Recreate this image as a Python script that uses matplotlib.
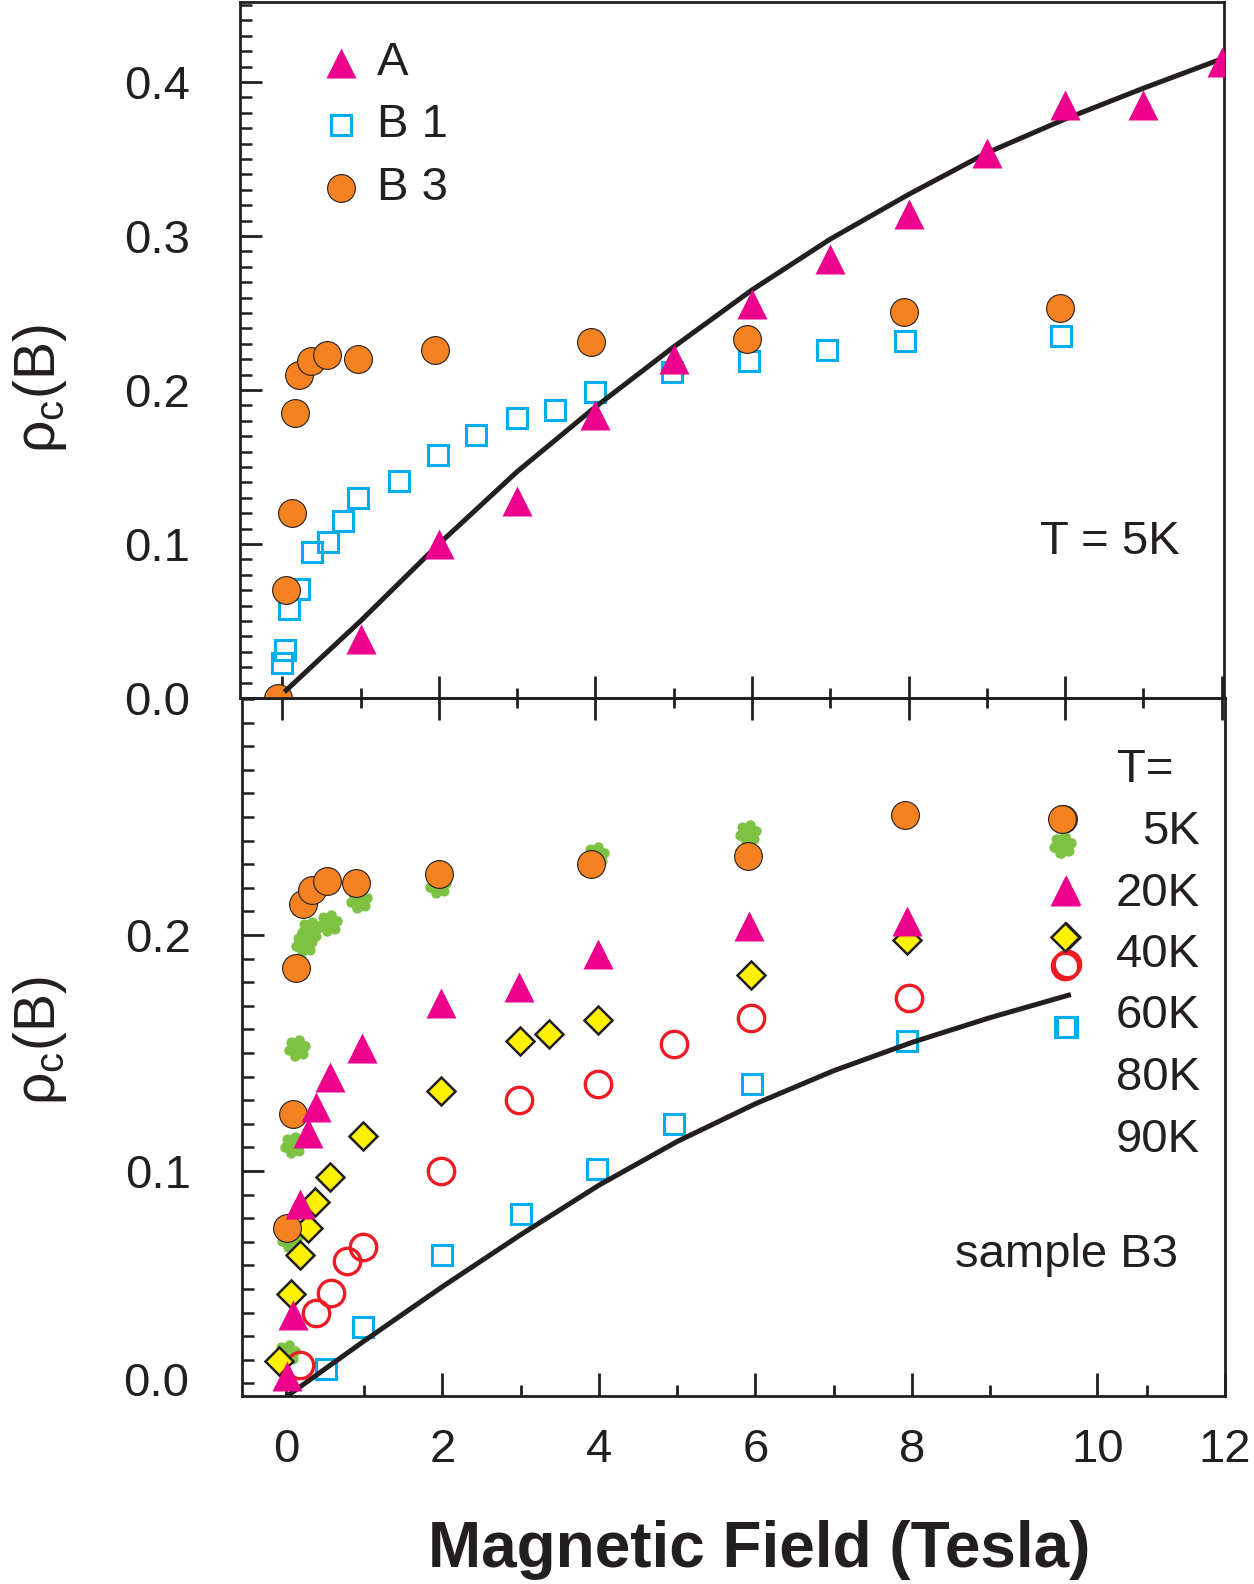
import numpy as np
import matplotlib
matplotlib.use('Agg')
import matplotlib.pyplot as plt
from matplotlib.path import Path
from matplotlib.ticker import MultipleLocator, FixedLocator, FormatStrFormatter

plt.rcParams['font.family'] = ['Liberation Sans', 'DejaVu Sans']
plt.rcParams['mathtext.default'] = 'regular'

INK = '#231F20'
MAGENTA = '#EC008C'
CYAN = '#00AEEF'
ORANGE = '#F58220'
GREEN = '#7DC242'
YELLOW = '#FFF200'
RED = '#ED1C24'

# upper panel, T = 5K, samples A, B1, B3
a_x = [1, 2, 3, 4, 5, 6, 7, 8, 9, 10, 11, 12]
a_y = [0.038, 0.100, 0.128, 0.184, 0.220, 0.256, 0.285, 0.314, 0.354, 0.385, 0.385, 0.413]
b1_x = [0.0, 0.03, 0.08, 0.21, 0.38, 0.58, 0.78, 0.97, 1.49, 1.99, 2.47, 3.0, 3.48, 4.0,
        4.98, 5.96, 6.96, 7.96, 9.95]
b1_y = [0.0225, 0.031, 0.058, 0.071, 0.095, 0.101, 0.115, 0.130, 0.141, 0.158, 0.171, 0.182,
        0.187, 0.199, 0.212, 0.219, 0.226, 0.232, 0.235]
b3_x = [-0.05, 0.05, 0.12, 0.16, 0.22, 0.37, 0.57, 0.97, 1.95, 3.95, 5.94, 7.94, 9.93]
b3_y = [0.0, 0.070, 0.120, 0.185, 0.210, 0.219, 0.223, 0.220, 0.226, 0.231, 0.233, 0.2505, 0.253]
fit_top_x = [0.05, 1, 2, 3, 4, 5, 6, 7, 8, 9, 10, 11, 12.05]
fit_top_y = [0.005, 0.050, 0.100, 0.147, 0.189, 0.228, 0.265, 0.298, 0.327, 0.354, 0.376, 0.396, 0.416]

# lower panel, sample B3 at several temperatures
t5_x = [0.01, 0.09, 0.13, 0.22, 0.33, 0.52, 0.90, 1.96, 3.90, 5.90, 7.91, 9.92]
t5_y = [0.076, 0.124, 0.186, 0.213, 0.219, 0.223, 0.222, 0.226, 0.230, 0.2335, 0.251, 0.249]
t20_x = [0.01, 0.05, 0.09, 0.14, 0.23, 0.31, 0.55, 0.94, 1.95, 3.96, 5.91, 9.92]
t20_y = [0.023, 0.071, 0.111, 0.152, 0.196, 0.202, 0.205, 0.215, 0.221, 0.234, 0.243, 0.238]
t40_x = [0.01, 0.09, 0.18, 0.285, 0.38, 0.56, 0.97, 1.98, 2.98, 3.99, 5.92, 7.94, 9.96]
t40_y = [0.013, 0.039, 0.086, 0.116, 0.127, 0.140, 0.152, 0.171, 0.178, 0.192, 0.204, 0.206, 0.2185]
t60_x = [-0.09, 0.06, 0.18, 0.285, 0.37, 0.57, 0.98, 1.98, 2.99, 3.36, 3.99, 5.94, 7.94, 9.96]
t60_y = [0.0195, 0.048, 0.0645, 0.076, 0.087, 0.0975, 0.115, 0.134, 0.155, 0.158, 0.164, 0.183,
         0.198, 0.199]
t80_x = [0.18, 0.38, 0.58, 0.78, 0.98, 1.98, 2.98, 3.99, 4.96, 5.94, 7.96, 9.96]
t80_y = [0.018, 0.040, 0.0485, 0.062, 0.068, 0.100, 0.130, 0.137, 0.154, 0.165, 0.1735, 0.187]
t90_x = [0.51, 0.99, 2.0, 3.0, 3.97, 4.96, 5.95, 7.94, 9.96]
t90_y = [0.016, 0.034, 0.0645, 0.082, 0.101, 0.120, 0.137, 0.155, 0.161]
fit_low_x = [0.03, 1, 2, 3, 4, 5, 6, 7, 8, 9, 10]
fit_low_y = [0.005, 0.028, 0.051, 0.073, 0.094, 0.1125, 0.1285, 0.1425, 0.1545, 0.165, 0.1745]

top_legend = ['A', 'B 1', 'B 3']
low_legend = ['5K', '20K', '40K', '60K', '80K', '90K']

# flower shaped marker for the green series
petals = [Path.circle((0.58 * np.cos(t), 0.58 * np.sin(t)), 0.36)
          for t in np.deg2rad(np.arange(0, 360, 60) + 15)]
flower = Path.make_compound_path(Path.circle((0, 0), 0.62), *petals)

st_a = dict(marker='^', ms=22, mfc=MAGENTA, mec='none', ls='none')
st_b1 = dict(marker='s', ms=14.5, mfc='none', mec=CYAN, mew=2.2, ls='none')
st_b3 = dict(marker='o', ms=20, mfc=ORANGE, mec=INK, mew=0.8, ls='none')
st_g = dict(marker=flower, ms=19, mfc=GREEN, mec='none', ls='none')
st_d = dict(marker='D', ms=14.5, mfc=YELLOW, mec=INK, mew=1.8, ls='none')
st_r = dict(marker='o', ms=19, mfc='none', mec=RED, mew=2.4, ls='none')

W, H = 1254, 1584
def fx(px):
    return px / W
def fy(py):
    return 1 - py / H

fig = plt.figure(figsize=(W / 100, H / 100), dpi=100)
ax1 = fig.add_axes([fx(240), fy(698), (1224 - 240) / W, (698 - 2) / H])
ax2 = fig.add_axes([fx(242), fy(1396), (1225 - 242) / W, (1396 - 698) / H])
ax2.patch.set_visible(False)

for ax in (ax1, ax2):
    for s in ax.spines.values():
        s.set_linewidth(2)
        s.set_color(INK)

# ---- upper panel
ax1.plot(b1_x, b1_y, zorder=3, **st_b1)
ax1.plot(b3_x, b3_y, zorder=4, **st_b3)
ax1.plot(fit_top_x, fit_top_y, color=INK, lw=3.6, zorder=5)
ax1.plot(a_x, a_y, zorder=6, **st_a)
ax1.set_xlim(-0.54, 12.03)
ax1.set_ylim(0, 0.452)
ax1.xaxis.set_major_locator(MultipleLocator(2))
ax1.xaxis.set_minor_locator(MultipleLocator(1))
ax1.yaxis.set_major_locator(MultipleLocator(0.1))
ax1.yaxis.set_minor_locator(MultipleLocator(0.01))
ax1.yaxis.set_major_formatter(FormatStrFormatter('%.1f'))
ax1.tick_params(axis='x', which='major', direction='inout', length=32, width=2,
                color=INK, labelbottom=False)
ax1.tick_params(axis='x', which='minor', direction='inout', length=15, width=2, color=INK)
ax1.tick_params(axis='y', which='major', direction='in', length=16, width=2, color=INK,
                pad=36, labelsize=34, labelcolor=INK)
ax1.tick_params(axis='y', which='minor', direction='in', length=8.5, width=1.8, color=INK)

# ---- lower panel
ax2.plot(t90_x, t90_y, zorder=3, **st_b1)
ax2.plot(fit_low_x, fit_low_y, color=INK, lw=3.6, zorder=4)
ax2.plot(t20_x, t20_y, zorder=5, **st_g)
ax2.plot(t80_x, t80_y, zorder=6, **st_r)
ax2.plot(t60_x, t60_y, zorder=7, **st_d)
ax2.plot(t5_x, t5_y, zorder=8, **st_b3)
ax2.plot(t40_x, t40_y, zorder=9, **st_a)
ax2.set_xlim(-0.56, 12.0)
ax2.set_ylim(0.0047, 0.3004)
ax2.xaxis.set_major_locator(FixedLocator([0, 2, 4, 6, 8, 10.37, 12]))
ax2.set_xticklabels(['0', '2', '4', '6', '8', '10', '12'])
ax2.xaxis.set_minor_locator(FixedLocator([1, 3, 5, 7, 9, 11]))
ax2.yaxis.set_major_locator(FixedLocator([0.1, 0.2]))
ax2.yaxis.set_minor_locator(MultipleLocator(0.01))
ax2.yaxis.set_major_formatter(FormatStrFormatter('%.1f'))
ax2.tick_params(axis='x', which='major', direction='in', length=16.5, width=2, color=INK,
                pad=23, labelsize=34, labelcolor=INK)
ax2.tick_params(axis='x', which='minor', direction='in', length=8, width=2, color=INK)
ax2.tick_params(axis='y', which='major', direction='in', length=16, width=2, color=INK,
                pad=37, labelsize=34, labelcolor=INK)
ax2.tick_params(axis='y', which='minor', direction='in', length=8.5, width=1.8, color=INK)
fig.text(fx(189), fy(1379), '0.0', ha='right', va='center_baseline', fontsize=34, color=INK)

# ---- legends (drawn by hand to keep the original arrangement)
def key(px, py, style):
    ax1.plot([fx(px)], [fy(py)], transform=fig.transFigure, clip_on=False, zorder=10, **style)

for py, st, lab in zip([63, 125, 188], [st_a, st_b1, st_b3], top_legend):
    key(340.5, py, st)
    fig.text(fx(377), fy(py), lab, ha='left', va='center', fontsize=34, color=INK)

key(1063, 818.5, st_b3)
key(1063, 845, st_g)
key(1066, 890, st_a)
key(1066, 937, st_d)
key(1067, 964, st_r)
key(1067, 1027, st_b1)
fig.text(fx(1117), fy(770), 'T=', ha='left', va='center', fontsize=34, color=INK)
for i, lab in enumerate(low_legend):
    fig.text(fx(1200), fy(832 + 61.5 * i), lab, ha='right', va='center', fontsize=34, color=INK)

fig.text(fx(1180), fy(542), 'T = 5K', ha='right', va='center', fontsize=34, color=INK)
fig.text(fx(1178), fy(1255), 'sample B3', ha='right', va='center', fontsize=34, color=INK)

for py in (389, 1041):
    fig.text(fx(40), fy(py), r'ρ$_c$(B)', rotation=90, ha='center', va='center',
             fontsize=41, color=INK)

fig.text(fx(759), fy(1550), 'Magnetic Field (Tesla)', ha='center', va='center',
         fontsize=46, fontweight='bold', color=INK)

fig.savefig('out.png', dpi=100)
